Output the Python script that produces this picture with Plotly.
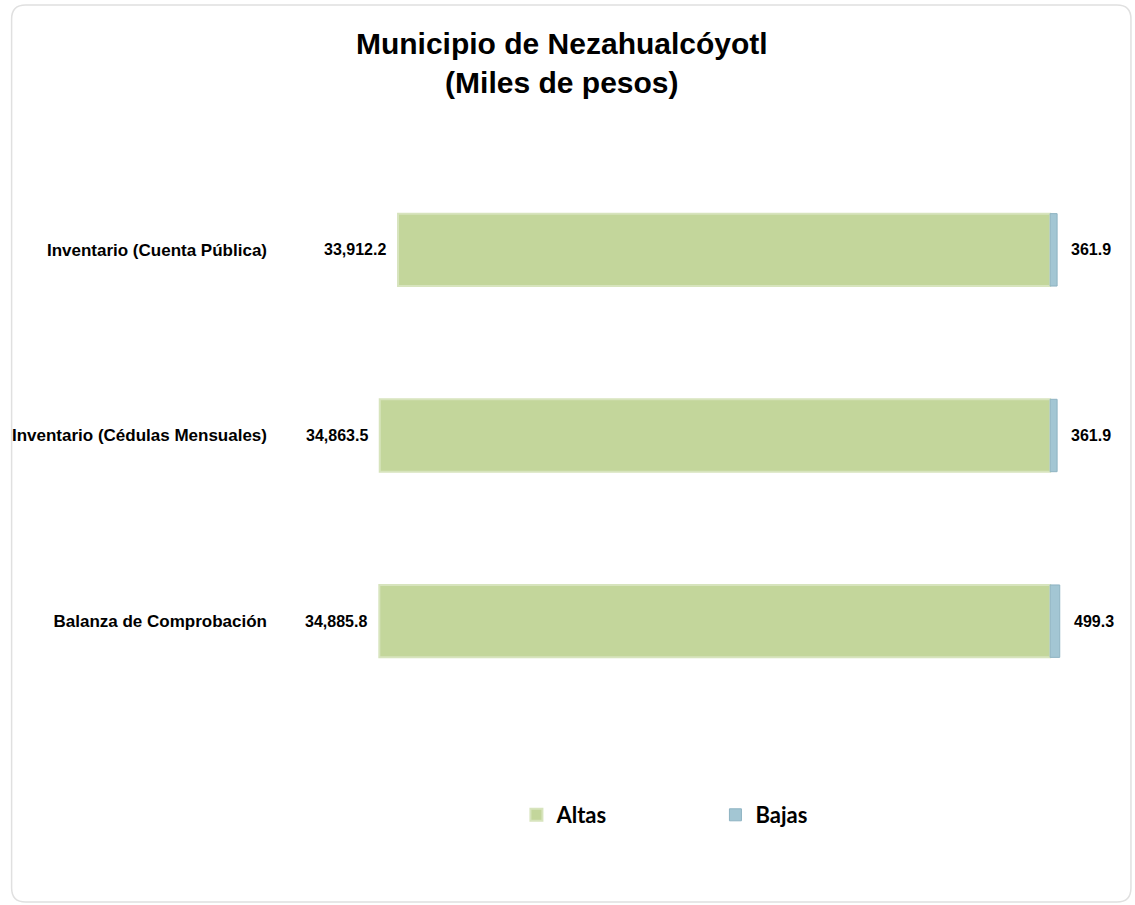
import plotly.graph_objects as go

categories = ["Inventario (Cuenta Pública)", "Inventario (Cédulas Mensuales)", "Balanza de Comprobación"]
altas = [33912.2, 34863.5, 34885.8]
bajas = [361.9, 361.9, 499.3]

W, H = 1135, 905
ML, MR, MT, MB = 270, 25, 157, 191
pw, ph = W - ML - MR, H - MT - MB
k = 672.0 / 34863.5  # px per unit
xmin = -(1050 - ML) / k
xmax = (W - MR - 1050) / k

fig = go.Figure()
fig.add_trace(go.Bar(
    y=categories, x=[-v for v in altas], orientation="h", name="Altas",
    marker=dict(color="#C3D69B", line=dict(color="#D7E4BD", width=2)),
    hoverinfo="skip"))
fig.add_trace(go.Bar(
    y=categories, x=bajas, orientation="h", name="Bajas",
    marker=dict(color="#A3C6D3", line=dict(color="#8EB3C2", width=1)),
    hoverinfo="skip"))

annotations = []
for c, a, b in zip(categories, altas, bajas):
    annotations.append(dict(x=-a, y=c, xref="x", yref="y", text=f"<b>{a:,.1f}</b>",
                            showarrow=False, xanchor="right", xshift=-10,
                            font=dict(family="Liberation Sans, Arial", size=16, color="black")))
    annotations.append(dict(x=b, y=c, xref="x", yref="y", text=f"<b>{b:,.1f}</b>",
                            showarrow=False, xanchor="left", xshift=12,
                            font=dict(family="Liberation Sans, Arial", size=16, color="black")))

# rounded frame in paper coords
def px2x(p): return (p - ML) / pw
def px2y(p): return (H - MB - p) / ph
r = 14
x0, x1, y0, y1 = 9, 1131, 5, 902
path = (f"M {px2x(x0+r)},{px2y(y0)} L {px2x(x1-r)},{px2y(y0)} "
        f"Q {px2x(x1)},{px2y(y0)} {px2x(x1)},{px2y(y0+r)} "
        f"L {px2x(x1)},{px2y(y1-r)} Q {px2x(x1)},{px2y(y1)} {px2x(x1-r)},{px2y(y1)} "
        f"L {px2x(x0+r)},{px2y(y1)} Q {px2x(x0)},{px2y(y1)} {px2x(x0)},{px2y(y1-r)} "
        f"L {px2x(x0)},{px2y(y0+r)} Q {px2x(x0)},{px2y(y0)} {px2x(x0+r)},{px2y(y0)} Z")

fig.update_layout(
    width=W, height=H,
    margin=dict(l=ML, r=MR, t=MT, b=MB),
    paper_bgcolor="white", plot_bgcolor="white",
    barmode="overlay", bargap=0.61,
    title=dict(text="<b>Municipio de Nezahualcóyotl<br>(Miles de pesos)</b>",
               x=0.495, xanchor="center", y=1 - 54 / H, yanchor="top",
               font=dict(family="Liberation Sans, Arial", size=30, color="black")),
    xaxis=dict(range=[xmin, xmax], visible=False, fixedrange=True),
    yaxis=dict(categoryorder="array", categoryarray=categories, autorange="reversed",
               showgrid=False, zeroline=False, showline=False, ticks="",
               tickfont=dict(family="Liberation Sans, Arial", size=17, color="black", weight="bold"),
               ticklabelstandoff=4),
    legend=dict(orientation="h", xref="container", yref="container",
                x=0.455, xanchor="left", y=1 - 815 / H, yanchor="middle",
                entrywidth=154, entrywidthmode="pixels", itemwidth=30,
                font=dict(family="Lato, Open Sans", size=22, color="black", weight="bold")),
    annotations=annotations,
    shapes=[dict(type="path", path=path, xref="paper", yref="paper",
                 line=dict(color="#E0E0E0", width=1.5), layer="below")],
    showlegend=True,
)

fig.write_html("out.html", config={"displayModeBar": False},
               post_script="document.body.style.margin='0';")
